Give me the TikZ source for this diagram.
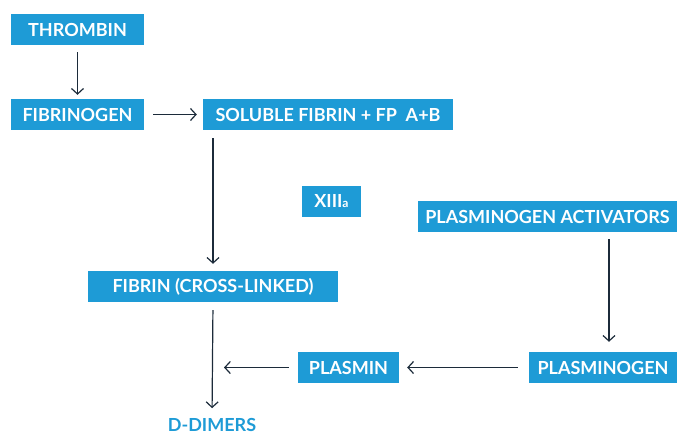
\documentclass[tikz,border=0pt]{standalone}
\usepackage{fontspec}
\setmainfont{Lato}
\usetikzlibrary{arrows.meta}
\definecolor{boxblue}{RGB}{30,155,214}
\definecolor{arrowc}{RGB}{28,43,58}
\tikzset{
  lbl/.style={font=\bfseries\fontsize{18}{18}\selectfont},
  box/.style={lbl, fill=boxblue, text=white,
    minimum height=31pt, inner sep=0pt, anchor=center},
  arr/.style={draw=arrowc, line width=1.2pt, -{Straight Barb[length=5.5pt,width=12pt,line width=1.2pt]}},
}
\begin{document}
\begin{tikzpicture}[x=1pt,y=-1pt]
\useasboundingbox (0,0) rectangle (678,434);
\node[box, minimum width=133pt] (thrombin) at (77.5,29.5) {THROMBIN};
\node[box, minimum width=133pt] (fibrinogen) at (77.5,114.5) {FIBRINOGEN};
\node[box, minimum width=250pt] (soluble) at (328,114.5) {SOLUBLE FIBRIN + FP\ \ A+B};
\node[box, minimum width=59pt] (xiiia) at (331.5,201.5) {XIII{\fontsize{12}{12}\selectfont a}};
\node[box, minimum width=259pt] (activators) at (547.5,216.5) {PLASMINOGEN ACTIVATORS};
\node[box, minimum width=250pt] (fibrin) at (213,286.5) {FIBRIN (CROSS-LINKED)};
\node[box, minimum width=101pt] (plasmin) at (348.5,367.5) {PLASMIN};
\node[box, minimum width=148pt] (plasminogen) at (603,367.5) {PLASMINOGEN};
\node[lbl, text=boxblue, inner sep=0pt, anchor=base] (ddimers) at (212,431.5) {D-DIMERS};
\coordinate (actdown) at (609,232);
\coordinate (pj) at (224,367.5);
\draw[arr, shorten <=7pt, shorten >=4pt] (thrombin) -- (fibrinogen);
\draw[arr, shorten <=9pt, shorten >=6pt] (fibrinogen) -- (soluble);
\draw[arr, shorten <=8pt, shorten >=7pt] (fibrin.north |- soluble.south) -- (fibrin.north);
\draw[arr, shorten <=8pt, shorten >=10pt] (fibrin.south) -- (ddimers.north);
\draw[arr, shorten <=7pt, shorten >=10pt] (actdown) -- (actdown |- plasminogen.north);
\draw[arr, shorten <=11pt, shorten >=8pt] (plasminogen) -- (plasmin);
\draw[arr, shorten <=9pt] (plasmin) -- (pj);
\end{tikzpicture}
\end{document}
